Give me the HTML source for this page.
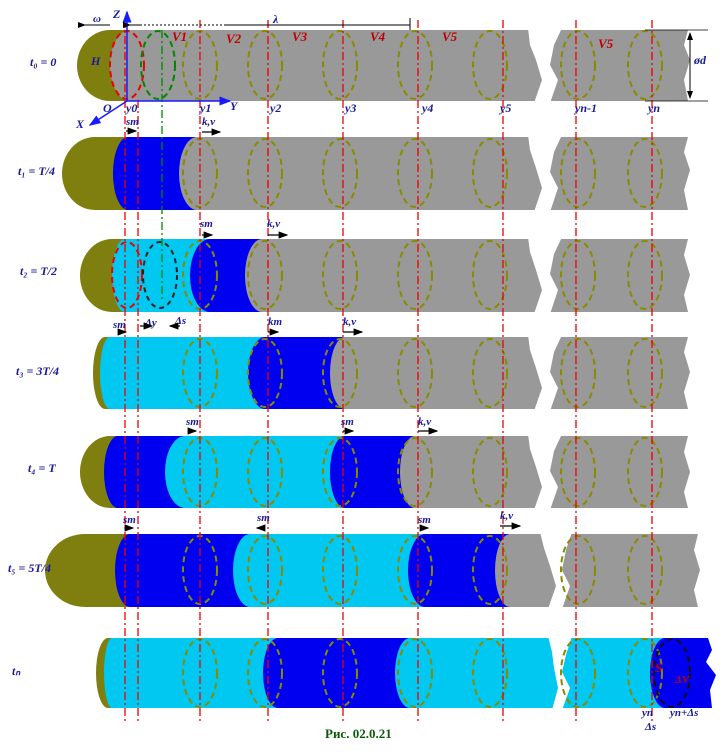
<!DOCTYPE html>
<html><head><meta charset="utf-8"><style>
html,body{margin:0;padding:0;background:#fff;}
svg{display:block;}
.lb{font-family:"Liberation Serif",serif;font-style:italic;font-weight:bold;fill:#1a1a9a;}
.rd{font-family:"Liberation Serif",serif;font-style:italic;font-weight:bold;fill:#c00000;font-size:13px;}
</style></head><body>
<svg width="722" height="754" viewBox="0 0 722 754" xmlns="http://www.w3.org/2000/svg">
<defs>
<marker id="ar" markerWidth="8" markerHeight="8" refX="7" refY="4" orient="auto"><path d="M0,1 L8,4 L0,7Z" fill="#000"/></marker>
<marker id="ab" markerWidth="8" markerHeight="8" refX="7" refY="4" orient="auto"><path d="M0,1 L8,4 L0,7Z" fill="#1a1aff"/></marker>
</defs>
<g id="rows">
<!-- Row 0 -->
<path d="M110,30 L140,30 L140,101 L110,101 A33,35.5 0 0 1 110,30Z" fill="#7f7f10"/>
<path d="M130,30 L688,30 L684,45 L690,60 L684,80 L688,101 L130,101 A20,35.5 0 0 1 130,30Z" fill="#999"/>
<!-- Row 1 -->
<path d="M95,137 L140,137 L140,210 L95,210 A33,36.5 0 0 1 95,137Z" fill="#7f7f10"/>
<path d="M128,137 L210,137 L210,210 L128,210 A15,36.5 0 0 1 128,137Z" fill="#0000f0"/>
<path d="M197,137 L688,137 L684,152 L690,170 L684,190 L688,210 L197,210 A18,36.5 0 0 1 197,137Z" fill="#999"/>
<!-- Row 2 -->
<path d="M112,239 L140,239 L140,312 L112,312 A32,36.5 0 0 1 112,239Z" fill="#7f7f10"/>
<path d="M125,239 L220,239 L220,312 L125,312 A13,36.5 0 0 1 125,239Z" fill="#00c8f0"/>
<path d="M210,239 L270,239 L270,312 L210,312 A20,36.5 0 0 1 210,239Z" fill="#0000f0"/>
<path d="M262,239 L688,239 L684,255 L690,275 L684,295 L688,312 L262,312 A17,36.5 0 0 1 262,239Z" fill="#999"/>
<!-- Row 3 -->
<path d="M105,337 L115,337 L115,409 L105,409 A12,36 0 0 1 105,337Z" fill="#7f7f10"/>
<path d="M110,337 L270,337 L270,409 L110,409 A10,36 0 0 1 110,337Z" fill="#00c8f0"/>
<path d="M265,337 L350,337 L350,409 L265,409 A17,36 0 0 1 265,337Z" fill="#0000f0"/>
<path d="M345,337 L688,337 L684,352 L690,372 L684,392 L688,409 L345,409 A15,36 0 0 1 345,337Z" fill="#999"/>
<!-- Row 4 -->
<path d="M110,436 L125,436 L125,508 L110,508 A30,36 0 0 1 110,436Z" fill="#7f7f10"/>
<path d="M118,436 L190,436 L190,508 L118,508 A14,36 0 0 1 118,436Z" fill="#0000f0"/>
<path d="M185,436 L350,436 L350,508 L185,508 A20,36 0 0 1 185,436Z" fill="#00c8f0"/>
<path d="M345,436 L420,436 L420,508 L345,508 A15,36 0 0 1 345,436Z" fill="#0000f0"/>
<path d="M415,436 L688,436 L684,452 L690,472 L684,492 L688,508 L415,508 A15,36 0 0 1 415,436Z" fill="#999"/>
<!-- Row 5 -->
<path d="M85,534 L135,534 L135,607 L85,607 A40,36.5 0 0 1 85,534Z" fill="#7f7f10"/>
<path d="M130,534 L255,534 L255,607 L130,607 A15,36.5 0 0 1 130,534Z" fill="#0000f0"/>
<path d="M250,534 L430,534 L430,607 L250,607 A17,36.5 0 0 1 250,534Z" fill="#00c8f0"/>
<path d="M425,534 L515,534 L515,607 L425,607 A17,36.5 0 0 1 425,534Z" fill="#0000f0"/>
<path d="M510,534 L698,534 L694,550 L700,570 L694,590 L698,607 L510,607 A15,36.5 0 0 1 510,534Z" fill="#999"/>
<!-- Row n -->
<path d="M108,638 L115,638 L115,708 L108,708 A12,35 0 0 1 108,638Z" fill="#7f7f10"/>
<path d="M112,638 L285,638 L285,708 L112,708 A8,35 0 0 1 112,638Z" fill="#00c8f0"/>
<path d="M278,638 L415,638 L415,708 L278,708 A15,35 0 0 1 278,638Z" fill="#0000f0"/>
<path d="M410,638 L670,638 L670,708 L410,708 A15,35 0 0 1 410,638Z" fill="#00c8f0"/>
<path d="M665,638 L708,638 L712,650 L706,662 L716,675 L710,690 L712,708 L665,708 A15,35 0 0 1 665,638Z" fill="#0000f0"/>
</g>
<!-- breaks -->
<g fill="#fff">
<polygon points="528,28 562,28 554,45 550,65 558,80 550,103 534,103 542,80 536,60 530,45"/>
<polygon points="528,135 562,135 554,152 550,172 558,188 550,212 534,212 542,188 536,168 530,150"/>
<polygon points="528,237 562,237 554,254 550,274 558,290 550,314 534,314 542,290 536,270 530,252"/>
<polygon points="528,335 562,335 554,352 550,372 558,388 550,411 534,411 542,388 536,368 530,350"/>
<polygon points="528,434 562,434 554,451 550,471 558,487 550,510 534,510 542,487 536,467 530,449"/>
<polygon points="540,532 572,532 566,550 562,570 570,586 562,609 548,609 556,586 550,566 544,548"/>
<polygon points="548,636 572,636 566,655 562,672 570,688 562,710 552,710 558,688 554,668 552,652"/>
</g>
<!-- dashed ellipses -->
<g fill="none" stroke="#8a8a00" stroke-width="2" stroke-dasharray="6,4">
<g id="el">
<ellipse cx="200" cy="65" rx="17" ry="34"/><ellipse cx="265" cy="65" rx="17" ry="34"/><ellipse cx="340" cy="65" rx="17" ry="34"/><ellipse cx="415" cy="65" rx="17" ry="34"/><ellipse cx="490" cy="65" rx="17" ry="34"/><ellipse cx="578" cy="65" rx="17" ry="34"/><ellipse cx="645" cy="65" rx="17" ry="34"/>
</g>
<use href="#el" y="108"/><use href="#el" y="210"/><use href="#el" y="308"/><use href="#el" y="407"/><use href="#el" y="505"/><use href="#el" y="608"/>
</g>
<ellipse cx="127" cy="65" rx="17" ry="34" fill="none" stroke="#e00" stroke-width="2" stroke-dasharray="6,4"/>
<ellipse cx="158" cy="65" rx="17" ry="34" fill="none" stroke="#080" stroke-width="2" stroke-dasharray="6,4"/>
<ellipse cx="127" cy="275" rx="15" ry="33" fill="none" stroke="#e00" stroke-width="2" stroke-dasharray="6,4"/>
<ellipse cx="160" cy="275" rx="17" ry="33" fill="none" stroke="#222" stroke-width="2" stroke-dasharray="5,4"/>
<ellipse cx="672" cy="673" rx="18" ry="34" fill="none" stroke="#111" stroke-width="2" stroke-dasharray="6,4"/>
<!-- red dash-dot verticals -->
<g stroke="#ee0000" stroke-width="1.3" stroke-dasharray="8,3,2,3">
<line x1="125" y1="20" x2="125" y2="722"/><line x1="138" y1="100" x2="138" y2="722"/>
<line x1="200" y1="20" x2="200" y2="722"/><line x1="268" y1="20" x2="268" y2="722"/>
<line x1="343" y1="20" x2="343" y2="722"/><line x1="418" y1="20" x2="418" y2="722"/>
<line x1="503" y1="20" x2="503" y2="722"/><line x1="576" y1="20" x2="576" y2="722"/>
<line x1="652" y1="20" x2="652" y2="722"/>
</g>
<line x1="162" y1="30" x2="162" y2="300" stroke="#080" stroke-width="1.3" stroke-dasharray="8,3,2,3"/>
<!-- axes -->
<g stroke="#1a1aff" stroke-width="1.5" fill="none">
<line x1="127" y1="101" x2="127" y2="12" marker-end="url(#ab)"/>
<line x1="127" y1="101" x2="230" y2="101" marker-end="url(#ab)"/>
<line x1="127" y1="101" x2="90" y2="125" marker-end="url(#ab)"/>
</g>
<line x1="132" y1="25" x2="225" y2="25" stroke="#000" stroke-dasharray="2,2"/>
<line x1="225" y1="25" x2="410" y2="25" stroke="#000"/>
<line x1="130" y1="25" x2="140" y2="25" stroke="#000" marker-start="url(#ar)"/>
<line x1="410" y1="18" x2="410" y2="30" stroke="#000"/>
<line x1="690" y1="35" x2="690" y2="98" stroke="#000" marker-end="url(#ar)"/>
<line x1="690" y1="60" x2="690" y2="33" stroke="#000" marker-end="url(#ar)"/>
<line x1="645" y1="30" x2="708" y2="30" stroke="#000" stroke-width="0.7"/>
<line x1="645" y1="101" x2="708" y2="101" stroke="#000" stroke-width="0.7"/>
<line x1="85" y1="25" x2="110" y2="25" stroke="#000" marker-start="url(#ar)"/>
<!-- labels -->
<g class="lb" font-size="12">
<text x="30" y="66">t₀ = 0</text><text x="18" y="175">t₁ = T/4</text><text x="20" y="275">t₂ = T/2</text>
<text x="16" y="375">t₃ = 3T/4</text><text x="28" y="472">t₄ = T</text><text x="8" y="572">t₅ = 5T/4</text><text x="12" y="675">tₙ</text>
<text x="113" y="18">Z</text><text x="230" y="110">Y</text><text x="76" y="128">X</text><text x="103" y="112">O</text>
<text x="91" y="65">H</text><text x="93" y="22" font-size="11">ω</text><text x="273" y="23">λ</text>
<text x="694" y="64">ød</text>
<text x="126" y="112">y0</text><text x="200" y="112">y1</text><text x="270" y="112">y2</text><text x="345" y="112">y3</text><text x="422" y="112">y4</text><text x="500" y="112">y5</text><text x="575" y="112">yn-1</text><text x="648" y="112">yn</text>
<text x="126" y="125" font-size="11">sm</text><text x="202" y="125" font-size="11">k,v</text>
<text x="200" y="227" font-size="11">sm</text><text x="267" y="227" font-size="11">k,v</text>
<text x="113" y="328" font-size="11">sm</text><text x="268" y="325" font-size="11">km</text><text x="343" y="325" font-size="11">k,v</text>
<text x="145" y="326" font-size="11">Δy</text><text x="175" y="324" font-size="11">Δs</text>
<text x="186" y="425" font-size="11">sm</text><text x="341" y="425" font-size="11">sm</text><text x="418" y="425" font-size="11">k,v</text>
<text x="123" y="523" font-size="11">sm</text><text x="257" y="521" font-size="11">sm</text><text x="418" y="523" font-size="11">sm</text><text x="500" y="519" font-size="11">k,v</text>
<text x="642" y="716" font-size="11">yn</text><text x="670" y="716" font-size="11">yn+Δs</text><text x="645" y="730" font-size="11">Δs</text>
</g>
<g class="rd">
<text x="172" y="41">V1</text><text x="226" y="43">V2</text><text x="292" y="41">V3</text><text x="370" y="41">V4</text><text x="442" y="41">V5</text><text x="598" y="48">V5</text>
<text x="655" y="672">S</text><text x="675" y="683" font-size="11">ΔV</text>
</g>
<!-- small arrows -->
<g stroke="#000" stroke-width="1.2" marker-end="url(#ar)">
<line x1="126" y1="131" x2="136" y2="131"/><line x1="202" y1="132" x2="220" y2="132"/>
<line x1="202" y1="235" x2="212" y2="235"/><line x1="268" y1="235" x2="287" y2="235"/>
<line x1="118" y1="332" x2="126" y2="332"/><line x1="268" y1="332" x2="278" y2="332"/><line x1="343" y1="332" x2="362" y2="332"/>
<line x1="188" y1="431" x2="196" y2="431"/><line x1="343" y1="431" x2="353" y2="431"/><line x1="418" y1="431" x2="437" y2="431"/>
<line x1="125" y1="528" x2="133" y2="528"/><line x1="265" y1="528" x2="257" y2="528"/><line x1="420" y1="528" x2="428" y2="528"/><line x1="500" y1="526" x2="520" y2="526"/>
<line x1="140" y1="326" x2="152" y2="326"/><line x1="180" y1="326" x2="170" y2="326"/>
</g>
<text x="325" y="738" font-family="Liberation Serif,serif" font-weight="bold" font-size="13" fill="#0a5a0a">Рис. 02.0.21</text>
</svg>
</body></html>
